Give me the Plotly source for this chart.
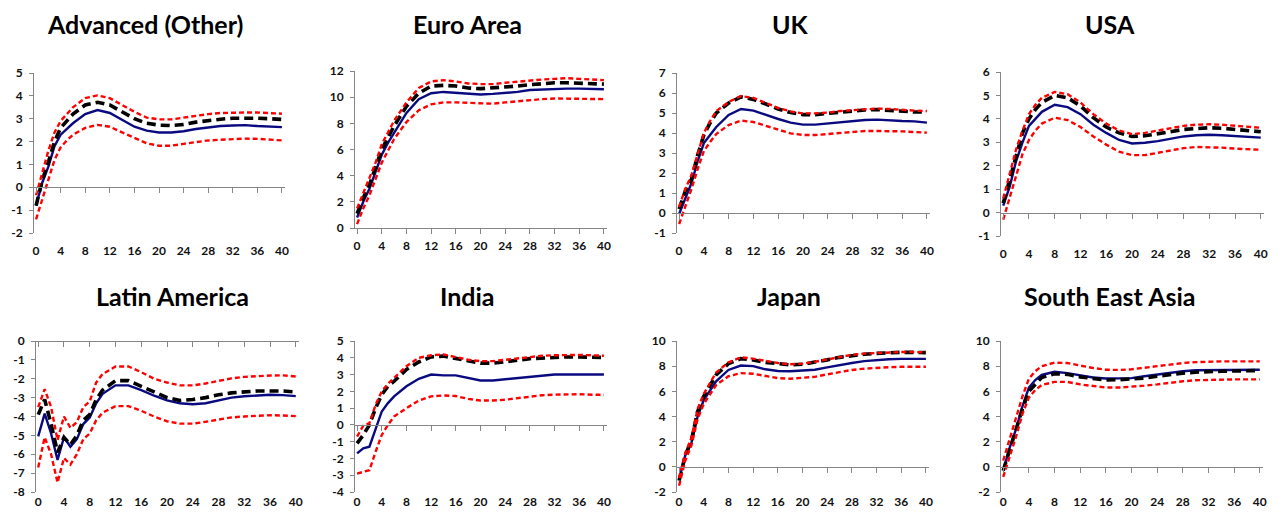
import plotly.graph_objects as go

# ---------------- data ----------------
X = [0, 1, 2, 3, 4, 5, 6, 8, 10, 12, 14, 16, 18, 20, 22, 24, 26, 28, 30, 32, 34, 36, 38, 40]
X_LATAM = [0, 1, 2, 3, 4, 5, 6, 7, 8, 9, 10, 12, 14, 16, 18, 20, 22, 24, 26, 28, 30, 32, 34, 36, 38, 40]
X_TICKS = [0, 4, 8, 12, 16, 20, 24, 28, 32, 36, 40]

titles = ["Advanced (Other)", "Euro Area", "UK", "USA",
          "Latin America", "India", "Japan", "South East Asia"]

adv_mid = [-0.8, 0.2, 0.9, 1.8, 2.3, 2.55, 2.8, 3.2, 3.38, 3.25, 2.95, 2.65, 2.48, 2.4, 2.4, 2.45, 2.55, 2.62, 2.68, 2.7, 2.72, 2.68, 2.67, 2.63]
adv_alt = [-0.8, 0.3, 1.1, 2.0, 2.6, 2.9, 3.2, 3.6, 3.72, 3.6, 3.3, 3.0, 2.8, 2.72, 2.7, 2.75, 2.85, 2.92, 2.98, 3.02, 3.03, 3.02, 3.0, 2.97]
adv_hi = [-0.35, 0.6, 1.6, 2.4, 2.9, 3.2, 3.5, 3.9, 4.02, 3.9, 3.6, 3.3, 3.05, 2.97, 2.97, 3.05, 3.12, 3.2, 3.25, 3.27, 3.27, 3.27, 3.24, 3.22]
adv_lo = [-1.4, -0.5, 0.3, 1.2, 1.75, 2.05, 2.3, 2.6, 2.73, 2.65, 2.4, 2.15, 1.92, 1.82, 1.82, 1.9, 1.98, 2.05, 2.08, 2.12, 2.13, 2.12, 2.1, 2.05]

euro_mid = [0.8, 2.0, 3.0, 4.3, 5.6, 6.5, 7.3, 8.8, 9.85, 10.3, 10.4, 10.35, 10.3, 10.2, 10.25, 10.3, 10.4, 10.55, 10.6, 10.65, 10.65, 10.65, 10.6, 10.6]
euro_alt = [1.1, 2.3, 3.3, 4.6, 6.0, 6.9, 7.8, 9.3, 10.3, 10.85, 10.9, 10.85, 10.7, 10.65, 10.7, 10.75, 10.85, 10.95, 11.05, 11.1, 11.1, 11.05, 11.0, 11.0]
euro_hi = [1.5, 2.7, 3.8, 5.0, 6.4, 7.3, 8.2, 9.6, 10.7, 11.2, 11.3, 11.2, 11.05, 11.0, 11.0, 11.1, 11.2, 11.3, 11.35, 11.4, 11.45, 11.4, 11.35, 11.3]
euro_lo = [0.3, 1.5, 2.5, 3.7, 5.0, 5.9, 6.8, 8.1, 9.0, 9.45, 9.6, 9.6, 9.55, 9.5, 9.5, 9.6, 9.7, 9.8, 9.85, 9.9, 9.9, 9.9, 9.88, 9.85]

uk_mid = [-0.05, 0.7, 1.5, 2.6, 3.5, 3.9, 4.3, 4.9, 5.2, 5.12, 4.9, 4.7, 4.52, 4.42, 4.42, 4.48, 4.55, 4.6, 4.65, 4.67, 4.62, 4.6, 4.58, 4.52]
uk_alt = [0.2, 1.1, 1.7, 2.9, 3.9, 4.5, 5.0, 5.5, 5.8, 5.68, 5.45, 5.2, 5.02, 4.92, 4.92, 4.98, 5.05, 5.12, 5.15, 5.17, 5.12, 5.1, 5.05, 5.05]
uk_hi = [0.3, 1.2, 1.9, 3.0, 4.0, 4.6, 5.1, 5.55, 5.85, 5.75, 5.5, 5.25, 5.08, 4.98, 4.98, 5.02, 5.1, 5.15, 5.2, 5.22, 5.2, 5.15, 5.12, 5.1]
uk_lo = [-0.55, 0.3, 1.2, 2.2, 3.1, 3.55, 3.95, 4.4, 4.62, 4.55, 4.35, 4.15, 3.98, 3.9, 3.9, 3.95, 4.0, 4.05, 4.1, 4.1, 4.1, 4.08, 4.05, 4.02]

usa_mid = [0.3, 1.1, 2.2, 3.0, 3.7, 4.0, 4.3, 4.6, 4.5, 4.2, 3.75, 3.4, 3.1, 2.95, 2.98, 3.05, 3.15, 3.25, 3.3, 3.32, 3.3, 3.27, 3.22, 3.2]
usa_alt = [0.4, 1.4, 2.5, 3.4, 4.0, 4.4, 4.7, 5.0, 4.9, 4.55, 4.05, 3.65, 3.4, 3.25, 3.28, 3.35, 3.45, 3.55, 3.6, 3.62, 3.6, 3.55, 3.5, 3.45]
usa_hi = [0.6, 1.6, 2.7, 3.5, 4.2, 4.6, 4.9, 5.15, 5.05, 4.7, 4.2, 3.8, 3.5, 3.35, 3.4, 3.5, 3.6, 3.7, 3.75, 3.77, 3.75, 3.7, 3.65, 3.62]
usa_lo = [-0.3, 0.6, 1.6, 2.5, 3.1, 3.5, 3.8, 4.05, 3.95, 3.65, 3.25, 2.9, 2.6, 2.45, 2.45, 2.55, 2.65, 2.75, 2.8, 2.8, 2.77, 2.73, 2.7, 2.68]

latam_mid = [-5.05, -3.85, -4.9, -6.3, -5.1, -5.6, -5.2, -4.4, -4.05, -3.3, -2.8, -2.35, -2.35, -2.6, -2.9, -3.15, -3.3, -3.35, -3.3, -3.15, -3.0, -2.93, -2.88, -2.85, -2.87, -2.92]
latam_alt = [-3.9, -3.1, -4.4, -5.9, -5.1, -5.5, -5.0, -4.2, -3.9, -3.1, -2.6, -2.1, -2.1, -2.4, -2.75, -3.0, -3.15, -3.1, -3.0, -2.85, -2.75, -2.7, -2.65, -2.65, -2.65, -2.7]
latam_hi = [-3.5, -2.55, -3.5, -5.25, -4.0, -4.6, -4.3, -3.5, -3.2, -2.2, -1.75, -1.35, -1.35, -1.65, -2.0, -2.2, -2.35, -2.35, -2.25, -2.1, -1.98, -1.9, -1.85, -1.83, -1.82, -1.88]
latam_lo = [-6.7, -5.1, -6.0, -7.5, -6.2, -6.55, -6.0, -5.2, -4.9, -4.2, -3.8, -3.45, -3.45, -3.7, -4.0, -4.25, -4.38, -4.38, -4.28, -4.15, -4.05, -4.0, -3.95, -3.93, -3.95, -3.98]

india_mid = [-1.7, -1.4, -1.3, -0.3, 0.8, 1.3, 1.7, 2.3, 2.75, 3.0, 2.95, 2.95, 2.8, 2.65, 2.65, 2.72, 2.82, 2.9, 2.95, 3.0, 3.0, 3.0, 3.0, 3.0]
india_alt = [-1.1, -0.6, 0.0, 1.0, 1.8, 2.3, 2.6, 3.3, 3.75, 4.05, 4.1, 3.95, 3.8, 3.68, 3.68, 3.75, 3.85, 3.95, 4.0, 4.05, 4.05, 4.05, 4.05, 4.02]
india_hi = [-0.7, -0.05, 0.1, 1.2, 2.0, 2.45, 2.8, 3.5, 4.0, 4.15, 4.2, 4.05, 3.88, 3.8, 3.8, 3.88, 3.97, 4.05, 4.12, 4.15, 4.17, 4.17, 4.15, 4.12]
india_lo = [-2.9, -2.8, -2.7, -1.6, -0.6, 0.0, 0.5, 1.0, 1.45, 1.7, 1.75, 1.72, 1.55, 1.45, 1.45, 1.5, 1.6, 1.68, 1.77, 1.8, 1.83, 1.83, 1.8, 1.8]

japan_mid = [-1.0, 0.9, 1.9, 4.0, 5.3, 6.0, 6.8, 7.7, 8.05, 8.0, 7.75, 7.62, 7.6, 7.65, 7.72, 7.9, 8.1, 8.25, 8.4, 8.5, 8.55, 8.58, 8.58, 8.58]
japan_alt = [-1.1, 0.9, 2.1, 4.4, 5.6, 6.5, 7.3, 8.2, 8.6, 8.5, 8.3, 8.2, 8.1, 8.15, 8.3, 8.5, 8.7, 8.85, 8.95, 9.02, 9.08, 9.1, 9.1, 9.08]
japan_hi = [-0.9, 1.1, 2.3, 4.6, 5.8, 6.7, 7.5, 8.3, 8.7, 8.6, 8.4, 8.25, 8.15, 8.2, 8.35, 8.55, 8.75, 8.9, 9.0, 9.05, 9.1, 9.12, 9.12, 9.1]
japan_lo = [-1.5, 0.5, 1.7, 3.8, 5.0, 5.8, 6.5, 7.2, 7.45, 7.4, 7.2, 7.05, 7.0, 7.05, 7.15, 7.35, 7.55, 7.7, 7.8, 7.88, 7.92, 7.95, 7.95, 7.95]

sea_mid = [-0.3, 1.5, 3.0, 4.8, 6.3, 6.9, 7.3, 7.55, 7.45, 7.25, 7.1, 7.02, 7.02, 7.05, 7.2, 7.35, 7.5, 7.6, 7.68, 7.7, 7.72, 7.72, 7.72, 7.72]
sea_alt = [-0.3, 1.4, 2.9, 4.6, 6.0, 6.6, 7.1, 7.4, 7.35, 7.15, 7.0, 6.9, 6.92, 6.95, 7.05, 7.2, 7.35, 7.45, 7.52, 7.58, 7.6, 7.62, 7.62, 7.65]
sea_hi = [0.5, 2.2, 3.8, 5.6, 7.0, 7.6, 8.0, 8.28, 8.25, 8.05, 7.85, 7.72, 7.7, 7.75, 7.85, 8.0, 8.12, 8.25, 8.32, 8.37, 8.38, 8.38, 8.38, 8.38]
sea_lo = [-0.8, 0.8, 2.4, 4.2, 5.5, 6.1, 6.5, 6.75, 6.75, 6.55, 6.4, 6.3, 6.3, 6.35, 6.45, 6.55, 6.7, 6.8, 6.88, 6.92, 6.95, 6.95, 6.95, 6.95]

y_ranges = [[-2, 5], [0, 12], [-1, 7], [-1, 6], [-8, 0], [-4, 5], [-2, 10], [-2, 10]]
y_dticks = [1, 2, 1, 1, 1, 1, 2, 2]

series = [
    (X, adv_mid, adv_alt, adv_hi, adv_lo),
    (X, euro_mid, euro_alt, euro_hi, euro_lo),
    (X, uk_mid, uk_alt, uk_hi, uk_lo),
    (X, usa_mid, usa_alt, usa_hi, usa_lo),
    (X_LATAM, latam_mid, latam_alt, latam_hi, latam_lo),
    (X, india_mid, india_alt, india_hi, india_lo),
    (X, japan_mid, japan_alt, japan_hi, japan_lo),
    (X, sea_mid, sea_alt, sea_hi, sea_lo),
]

# ---------------- layout geometry (page pixels) ----------------
PAGE_W, PAGE_H = 1288, 519
OFF = 8  # default body margin of the html page
W, H = PAGE_W - 2 * OFF, PAGE_H - 2 * OFF
plot_px = [  # left, right, top, bottom
    (33, 285, 73, 233), (354, 607, 71, 228), (676, 930, 73, 233), (1000, 1264, 72, 236),
    (35, 299, 341, 492), (354, 607, 341, 492), (676, 929, 341, 492), (1000, 1263, 341, 492),
]
title_px = [(145, 24), (467, 24), (790, 24), (1110, 24),
            (172, 296), (467, 296), (789, 296), (1110, 296)]
label_standoff = [9, 9, 9, 9, 1, 1, 1, 1]


def px_x(p):
    return (p - OFF) / W


def px_y(p):
    return 1 - (p - OFF) / H


NAVY = "#0A0A80"
RED = "#FF0000"
AXIS = "#868686"
FONT = "Lato"
TICKFONT = dict(family=FONT, size=12, weight="bold", color="#111111")

fig = go.Figure()
layout = dict(
    template="none",
    width=W, height=H, margin=dict(l=0, r=0, t=0, b=0, pad=0, autoexpand=False),
    paper_bgcolor="white", plot_bgcolor="white", showlegend=False,
    font=dict(family=FONT, color="#111111"),
    annotations=[],
)

for i in range(8):
    n = i + 1
    xs, mid, alt, hi, lo = series[i]
    xa = "x" if n == 1 else f"x{n}"
    ya = "y" if n == 1 else f"y{n}"
    xlab = f"x{n + 8}"
    L, R, T, B = plot_px[i]
    xd = [px_x(L), px_x(R)]
    yd = [px_y(B), px_y(T)]
    y0, y1 = y_ranges[i]
    zero_pos = yd[0] + (0 - y0) / (y1 - y0) * (yd[1] - yd[0])
    yvals = list(range(y0, y1 + 1, y_dticks[i]))

    fig.add_trace(go.Scatter(x=xs, y=mid, mode="lines", xaxis=xa, yaxis=ya,
                             line=dict(color=NAVY, width=2.4)))
    fig.add_trace(go.Scatter(x=xs, y=alt, mode="lines", xaxis=xa, yaxis=ya,
                             line=dict(color="black", width=3.6, dash="9px,5px")))
    fig.add_trace(go.Scatter(x=xs, y=hi, mode="lines", xaxis=xa, yaxis=ya,
                             line=dict(color=RED, width=2.4, dash="5px,3px")))
    fig.add_trace(go.Scatter(x=xs, y=lo, mode="lines", xaxis=xlab, yaxis=ya,
                             line=dict(color=RED, width=2.4, dash="5px,3px")))

    # primary x axis: the horizontal line crossing at y = 0, with tick marks
    layout["xaxis" if n == 1 else f"xaxis{n}"] = dict(
        domain=xd, range=[-0.5, 40.5], anchor="free", position=zero_pos,
        automargin=False,
        showline=True, linecolor=AXIS, linewidth=1,
        ticks="outside", ticklen=5, tickcolor=AXIS, tickwidth=1,
        tickmode="array", tickvals=X_TICKS, showticklabels=False,
        showgrid=False, zeroline=False, fixedrange=True,
    )
    # label axis at the bottom of the plot
    layout[f"xaxis{n + 8}"] = dict(
        overlaying=xa, anchor=ya, side="bottom", range=[-0.5, 40.5],
        automargin=False,
        showline=False, ticks="", tickmode="array", tickvals=X_TICKS,
        ticktext=[str(v) for v in X_TICKS], ticklabelstandoff=label_standoff[i],
        tickfont=TICKFONT,
        showgrid=False, zeroline=False, fixedrange=True,
    )
    layout["yaxis" if n == 1 else f"yaxis{n}"] = dict(
        domain=yd, range=[y0, y1], anchor="free", position=xd[0],
        automargin=False,
        tickmode="array", tickvals=yvals, ticktext=[str(v) for v in yvals],
        showline=True, linecolor=AXIS, linewidth=1,
        ticks="outside", ticklen=4, tickcolor=AXIS, tickwidth=1,
        ticklabelstandoff=4,
        tickfont=TICKFONT,
        showgrid=False, zeroline=False, fixedrange=True,
    )
    tx, ty = title_px[i]
    layout["annotations"].append(dict(
        text=titles[i], x=px_x(tx), y=px_y(ty), xref="paper", yref="paper",
        xanchor="center", yanchor="middle", showarrow=False,
        font=dict(family=FONT, size=25, weight="bold", color="black"),
    ))

fig.update_layout(**layout)
fig.write_html("out.html")
